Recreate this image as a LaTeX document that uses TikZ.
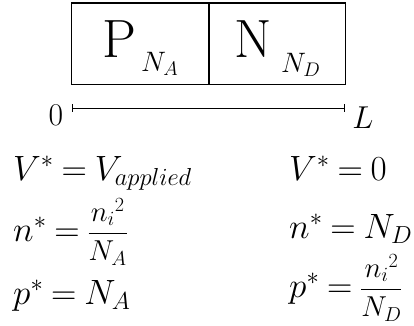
\RequirePackage{fix-cm}
\documentclass[tikz,border=0pt]{standalone}
\usepackage{amsmath}
\usetikzlibrary{positioning}
\thickmuskip=4mu

\begin{document}
\begin{tikzpicture}[
  x=0.03cm, y=-0.03cm,
  region/.style={rectangle, draw, thick, minimum width=4.1cm, minimum height=2.43cm, inner sep=0pt},
  bigletter/.style={font=\fontsize{46}{50}\selectfont, inner sep=0pt},
  doping/.style={font=\fontsize{30}{36}\selectfont, inner sep=0pt},
  endlabel/.style={font=\fontsize{30}{36}\selectfont, inner sep=0pt},
  eq/.style={font=\fontsize{30}{36}\selectfont, inner sep=0pt, anchor=base west}
]
\useasboundingbox (0,0) rectangle (414,325);

% the junction
\node[region] (pside) at (140,43.5) {};
\node[region, right=0pt of pside] (nside) {};
\draw[very thick] (pside.north west) -- (nside.north east);
\node[bigletter, anchor=base] (plab) at (119,57) {P};
\node[doping, anchor=base west] (na) at (141,71) {\scalebox{0.8}{$N_A$}};
\node[bigletter, anchor=base] (nlab) at (253,57) {N};
\node[doping, anchor=base west] (nd) at (281,72) {\scalebox{0.8}{$N_D$}};

% length scale
\coordinate (x0) at (72,108);
\coordinate (xL) at (345,108);
\draw[|-|, thick] (x0) -- (xL);
\node[endlabel, anchor=base] (zero) at (56,125) {\scalebox{0.9}{$0$}};
\node[endlabel, anchor=base] (ell) at (363,128) {\scalebox{0.9}{$L$}};

% boundary conditions, left contact
\node[eq] (vleft) at (13,180) {$V^* = V_{applied}$};
\node[eq] (nleft) at (13,241) {$n^* = \scalebox{0.82}{$\dfrac{{n_i}^2}{N_A}$}$};
\node[eq] (pleft) at (13,304) {$p^* = N_A$};

% boundary conditions, right contact
\node[eq] (vright) at (289,180) {$V^* = 0$};
\node[eq] (nright) at (289,238) {$n^* = N_D$};
\node[eq] (pright) at (289,297) {$p^* = \scalebox{0.82}{$\dfrac{{n_i}^2}{N_D}$}$};
\end{tikzpicture}
\end{document}
